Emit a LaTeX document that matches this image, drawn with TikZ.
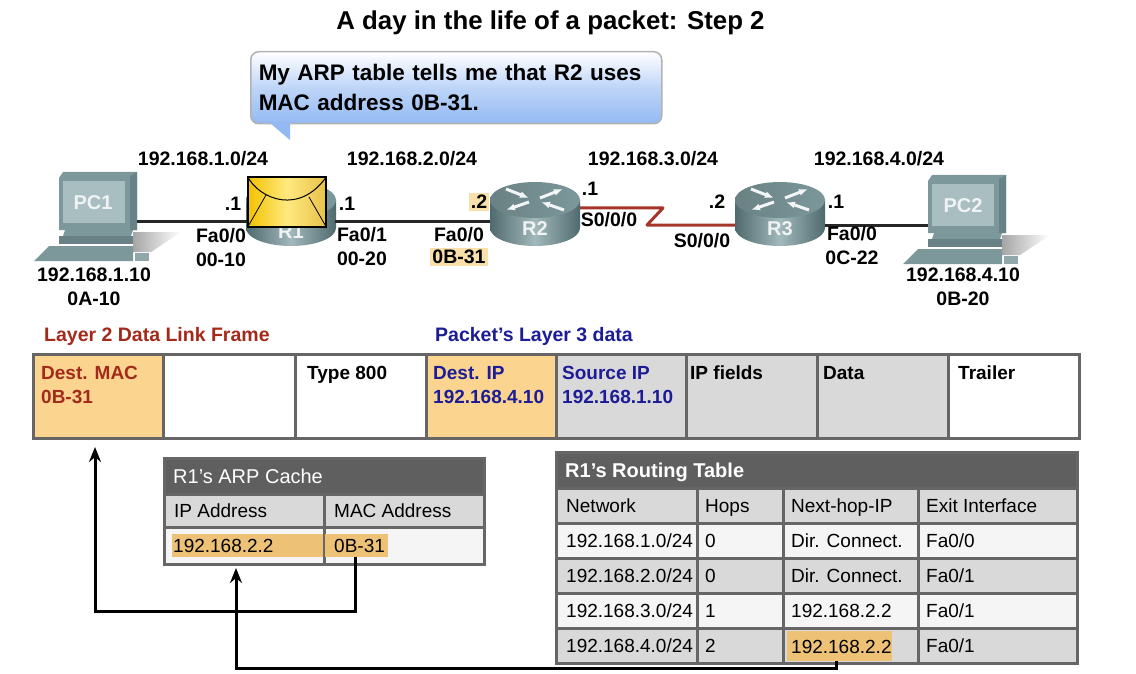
\documentclass[tikz,border=0pt]{standalone}
\usepackage{fontspec}
\setmainfont{Liberation Sans}
\usetikzlibrary{arrows.meta,positioning,calc}
\definecolor{hlorange}{HTML}{FBD590}
\definecolor{hlstrong}{HTML}{EDC277}
\definecolor{hllight}{HTML}{F9DFA9}
\definecolor{cellgray}{HTML}{D9D9D9}
\definecolor{cellline}{HTML}{666666}
\definecolor{headgray}{HTML}{5F5F5F}
\definecolor{framered}{HTML}{A32A1A}
\definecolor{frameblue}{HTML}{1C1C96}
\definecolor{serialred}{HTML}{A5352A}
\definecolor{devteal}{HTML}{7C989B}
\definecolor{devdark}{HTML}{4F6A6E}
\definecolor{devlight}{HTML}{A9BEC0}
\definecolor{bubbleblue}{HTML}{93B9F3}
\definecolor{envgold}{HTML}{F2C200}
\definecolor{envlight}{HTML}{FFE97F}
\definecolor{envdark}{HTML}{E8C24A}
\tikzset{
    netlbl/.style={font=\fontsize{19.5}{24}\selectfont\bfseries,inner sep=0pt,align=center},
    devlbl/.style={font=\fontsize{20}{24}\selectfont\bfseries,inner sep=0pt,text=white!88!devteal},
    framelbl/.style={font=\fontsize{19}{24}\selectfont\bfseries,inner sep=0pt,align=left,anchor=north west},
    cell/.style={draw=cellline,line width=3pt,inner sep=0pt,outer sep=0pt,anchor=north west},
    celltext/.style={font=\fontsize{19}{24}\selectfont,inner sep=0pt,anchor=west,text height=14pt,text depth=0pt},
    headtext/.style={celltext,text=white,font=\fontsize{20}{24}\selectfont},
    hl/.style={fill=hlstrong,inner sep=0pt,outer sep=0pt,anchor=north west},
    devbox/.style={inner sep=0pt,outer sep=0pt,minimum height=20},
    link/.style={line width=3pt,black!85},
    serial/.style={line width=3pt,serialred,line join=round},
    flow/.style={line width=3pt,black,line join=miter,-{Stealth[length=15pt,width=12pt]}},
    rarrow/.style={white!90!devteal,line width=3pt,-{Latex[length=9pt,width=7pt]}},
    router/.pic={
        \shade[left color=devdark,right color=devdark,middle color=devlight!85!devteal,draw=none]
            (-45,-14) -- (-45,14) arc[x radius=45,y radius=18,start angle=180,end angle=0] -- (45,-14) -- cycle;
        \shade[left color=devteal!85!black,right color=devteal,draw=none] (0,-14) ellipse[x radius=45,y radius=18];
        \draw[rarrow] (-29,-25) -- (-6,-16);
        \draw[rarrow] (29,-4) -- (6,-12);
        \draw[rarrow] (5,-16) -- (28,-25);
        \draw[rarrow] (-6,-12) -- (-29,-4);
    },
    pccomp/.pic={
        % shadow
        \shade[left color=black!35,right color=white,draw=none] (74,60) -- (122,60) -- (92,80) -- (74,80) -- cycle;
        % monitor
        \fill[devteal] (4,0) -- (78,0) -- (78,58) -- (0,58) -- (0,6) -- cycle;
        \fill[devdark!45!devteal] (71,4) -- (78,0) -- (78,58) -- (71,58) -- cycle;
        \fill[devlight] (4,9) rectangle (66,51);
        % base
        \fill[devteal] (6,58) -- (74,58) -- (72,64) -- (4,64) -- cycle;
        \fill[devteal!85!black] (0,64) -- (74,64) -- (74,72) -- (0,72) -- cycle;
        \fill[devteal] (-10,74) -- (74,74) -- (74,89) -- (-25,89) -- cycle;
        \fill[devteal!85!white] (76,81) -- (90,81) -- (90,89) -- (76,89) -- cycle;
    },
}
% one cell of a table, with its text
\newcommand{\tcell}[7]{\node[cell,minimum width=#4,minimum height=#5,fill=#6] (#1) at (#2,#3) {};}
\newcommand{\rtrow}[7]{
    \tcell{#1a}{556}{#2}{141}{35}{#3}{}
    \tcell{#1b}{697}{#2}{86}{35}{#3}{}
    \tcell{#1c}{783}{#2}{135}{35}{#3}{}
    \tcell{#1d}{918}{#2}{159}{35}{#3}{}
    \node[celltext] (#1at) at ([xshift=10]#1a.west) {#4};
    \node[celltext] (#1bt) at ([xshift=8]#1b.west) {#5};
    \node[celltext] (#1ct) at ([xshift=8]#1c.west) {#6};
    \node[celltext] (#1dt) at ([xshift=8]#1d.west) {#7};
}
\begin{document}
\begin{tikzpicture}[x=1pt,y=-1pt]
    \useasboundingbox[fill=white] (0,0) rectangle (1136,674);

    \node[font=\fontsize{25.8}{28}\selectfont\bfseries,inner sep=0pt] (title) at (550.5,23) {A day in the life of a packet: Step 2};

    % speech bubble
    \coordinate (tailtip) at (290,140);
    \node[draw=black!30,line width=1.5pt,rounded corners=8pt,minimum width=411,minimum height=72,inner sep=0pt,anchor=north west,
        top color=white,bottom color=bubbleblue,middle color=bubbleblue!60!white,
        font=\fontsize{22.5}{30}\selectfont\bfseries,align=left,text width=395] (bubble) at (250,51)
        {My ARP table tells me that R2 uses\\MAC address 0B-31.};
    \fill[bubbleblue] ([xshift=20,yshift=1.5]bubble.south west) -- ([xshift=40,yshift=1.5]bubble.south west) -- (tailtip) -- cycle;

    % devices
    \pic at (59,172) {pccomp};
    \pic at (928,175) {pccomp};
    \pic at (291,214) {router};
    \pic at (535,214) {router};
    \pic at (780,214) {router};
    \node[devbox,minimum width=78] (pc1) at (98,221) {};
    \node[devbox,minimum width=78] (pc2) at (967,221) {};
    \node[devbox,minimum width=88] (r1) at (291,221) {};
    \node[devbox,minimum width=90] (r2) at (535,221) {};
    \node[devbox,minimum width=90] (r3) at (780,221) {};
    \node[devlbl] (pc1lbl) at (93,203) {PC1};
    \node[devlbl] (pc2lbl) at (963,206) {PC2};
    \node[devlbl] (r1lbl) at (291,232) {R1};
    \node[devlbl] (r2lbl) at (535,229) {R2};
    \node[devlbl] (r3lbl) at (780,229) {R3};

    % links
    \coordinate (z1) at (663,208);
    \coordinate (z2) at (647,225);
    \draw[link] (pc1.east) -- (r1.west);
    \draw[link] (r1.east) -- (r2.west);
    \draw[serial] (r2.east |- z1) -- (z1) -- (z2) -- (r3.west |- z2);
    \draw[link] (r3.east |- z2) -- (pc2.west |- z2);

    % packet on R1
    \node[draw=black,line width=1.2pt,inner sep=0pt,minimum width=78,minimum height=50,shading angle=120,
        left color=envgold,right color=envdark,middle color=envlight] (pkt) at (287,202) {};
    \draw[black,line width=1pt] (pkt.north west) .. controls (260,200) and (300,215) .. (pkt.north east);
    \draw[black,line width=.8pt] (pkt.south west) -- (266,195);
    \draw[black,line width=.8pt] (pkt.south east) -- (309,197);

    % network labels
    \node[netlbl] (net1) at (203,159) {192.168.1.0/24};
    \node[netlbl] (net2) at (412,159) {192.168.2.0/24};
    \node[netlbl] (net3) at (653,159) {192.168.3.0/24};
    \node[netlbl] (net4) at (879,159) {192.168.4.0/24};
    \node[netlbl] (a1) at (233,204) {.1};
    \node[netlbl] (a2) at (347,204) {.1};
    \node[netlbl,fill=hllight,inner sep=2pt] (a3) at (479,202) {.2};
    \node[netlbl] (a4) at (590,189) {.1};
    \node[netlbl] (a5) at (717,202) {.2};
    \node[netlbl] (a6) at (836,202) {.1};
    \node[netlbl] (if1) at (221,248) {Fa0/0\\00-10};
    \node[netlbl] (if2) at (362,247) {Fa0/1\\00-20};
    \node[netlbl] (if3) at (459,235) {Fa0/0};
    \node[netlbl,fill=hllight,inner sep=2pt] (if3m) at (459,257) {0B-31};
    \node[netlbl] (if4) at (609,220) {S0/0/0};
    \node[netlbl] (if5) at (702,241) {S0/0/0};
    \node[netlbl] (if6) at (852,246) {Fa0/0\\0C-22};
    \node[netlbl] (host1) at (94,287) {192.168.1.10\\0A-10};
    \node[netlbl] (host2) at (963,287) {192.168.4.10\\0B-20};

    % frame
    \node[netlbl,anchor=west,text=framered] (l2lbl) at (44,336) {Layer 2 Data Link Frame};
    \node[netlbl,anchor=west,text=frameblue] (l3lbl) at (435,336) {Packet's Layer 3 data};
    \foreach \n/\x/\w/\c/\tc/\tx/\t in {
        f1/33/130/hlorange/framered/8/{Dest. MAC\\0B-31},
        f2/163/132/white/black/8/{},
        f3/295/131/white/black/12/{Type 800},
        f4/426/130/hlorange/frameblue/7/{Dest. IP\\192.168.4.10},
        f5/556/130/cellgray/frameblue/6/{Source IP\\192.168.1.10},
        f6/686/131/cellgray/black/4/{IP fields},
        f7/817/131/cellgray/black/6/{Data},
        f8/948/131/white/black/10/{Trailer}}{
        \node[cell,minimum width=\w,minimum height=84,fill=\c] (\n) at (\x,354) {};
        \node[framelbl,text=\tc] (\n t) at ([xshift=\tx,yshift=-12]\n.north west) {\t};
    }

    % ARP cache
    \tcell{arph}{164}{458}{320}{36}{headgray}{}
    \node[headtext] (arphtxt) at ([xshift=9]arph.west) {R1's ARP Cache};
    \tcell{arpa}{164}{494}{160}{33}{cellgray}{}
    \tcell{arpb}{324}{494}{160}{33}{cellgray}{}
    \tcell{arpc}{164}{527}{160}{37}{white!96!black}{}
    \tcell{arpd}{324}{527}{160}{37}{white!96!black}{}
    \node[hl,minimum width=151,minimum height=23] (ipval) at (172,534) {};
    \node[hl,minimum width=63,minimum height=23] (macval) at (325,534) {};
    \node[celltext] (arpat) at ([xshift=10]arpa.west) {IP Address};
    \node[celltext] (arpbt) at ([xshift=10]arpb.west) {MAC Address};
    \node[celltext] (arpct) at ([xshift=9]arpc.west) {192.168.2.2};
    \node[celltext] (arpdt) at ([xshift=10]arpd.west) {0B-31};

    % routing table
    \tcell{rth}{556}{452}{521}{36}{headgray}{}
    \node[headtext,font=\fontsize{20}{24}\selectfont\bfseries] (rthtxt) at ([xshift=9]rth.west) {R1's Routing Table};
    \rtrow{rt0}{488}{cellgray}{Network}{Hops}{Next-hop-IP}{Exit Interface}
    \rtrow{rt1}{523}{white!96!black}{192.168.1.0/24}{0}{Dir. Connect.}{Fa0/0}
    \rtrow{rt2}{558}{cellgray}{192.168.2.0/24}{0}{Dir. Connect.}{Fa0/1}
    \rtrow{rt3}{593}{white!96!black}{192.168.3.0/24}{1}{192.168.2.2}{Fa0/1}
    \rtrow{rt4}{628}{cellgray}{192.168.4.0/24}{2}{}{Fa0/1}
    \node[hl,minimum width=105,minimum height=30] (hopval) at (787,631) {};
    \node[celltext] (hopvalt) at ([xshift=4]hopval.west) {192.168.2.2};

    % arrows
    \coordinate (c1) at (95,611);
    \coordinate (c2) at (236,668);
    \draw[flow,shorten >=9pt] ([xshift=-1]macval.south) |- (c1) -- (c1 |- f1.south);
    \draw[flow,shorten >=4pt] ([xshift=-3]hopval.south) |- (c2) -- (c2 |- arpc.south);
\end{tikzpicture}
\end{document}
